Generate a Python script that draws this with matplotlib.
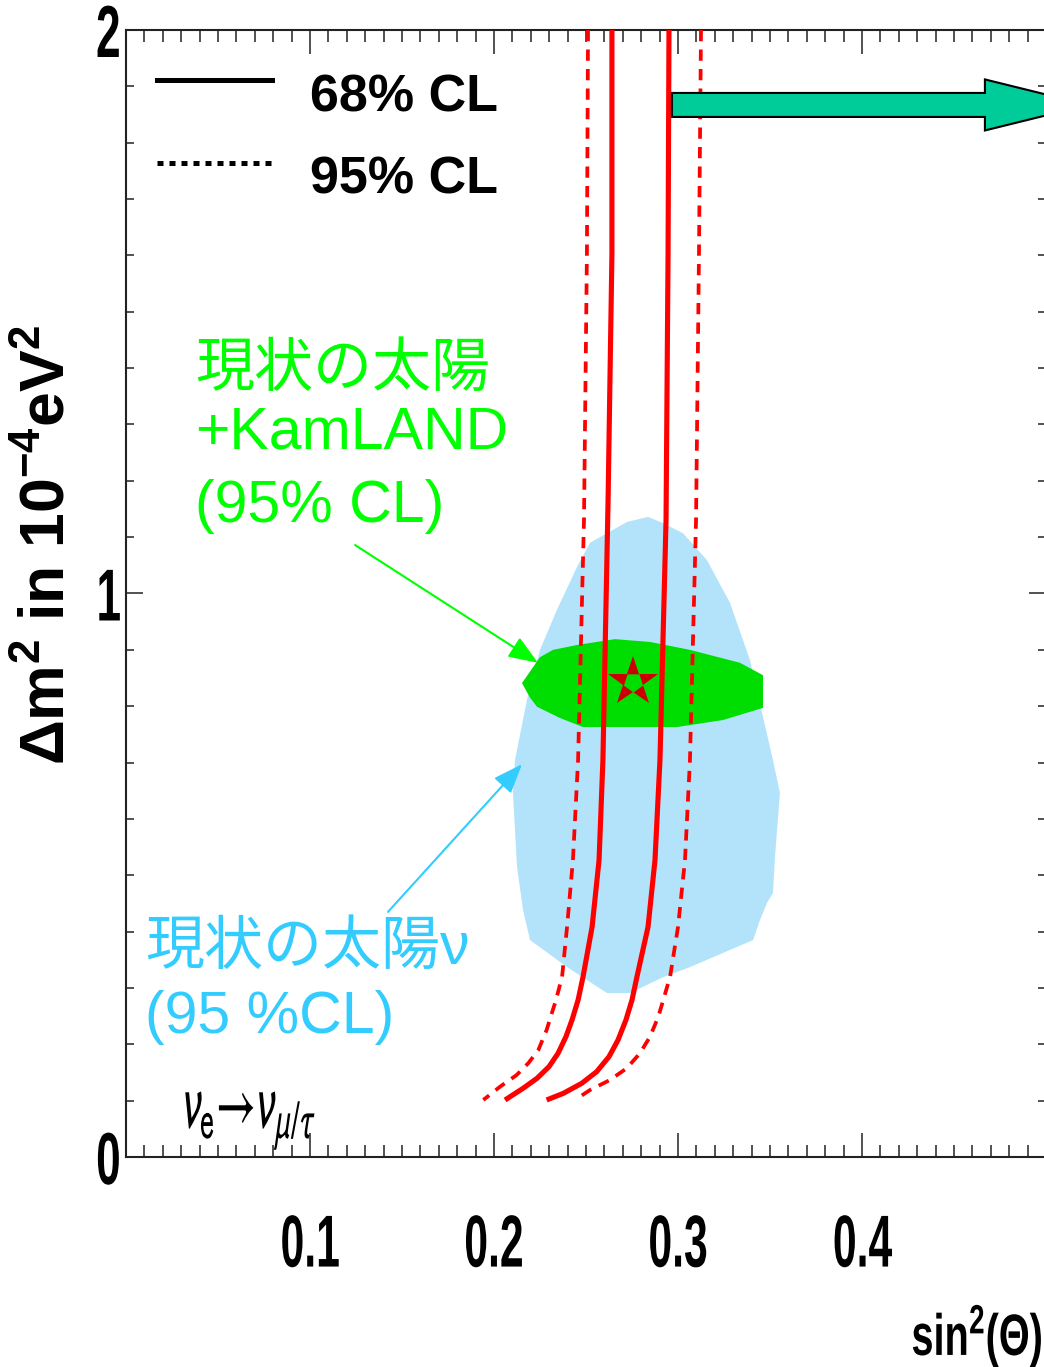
import numpy as np
import matplotlib
matplotlib.use("Agg")
import matplotlib.pyplot as plt
from matplotlib.patches import Polygon
from matplotlib.lines import Line2D
from matplotlib.legend_handler import HandlerLine2D
from matplotlib.patheffects import AbstractPathEffect
from matplotlib.transforms import Affine2D
from matplotlib.ticker import MultipleLocator

# ---------------------------------------------------------------- data
# 68% CL allowed band (two branches, sin^2 vs dm^2 [1e-4 eV^2])
cl68_left_x = [0.2641, 0.2641, 0.2620, 0.2592, 0.2571, 0.2533, 0.2484, 0.2457, 0.2424, 0.2391,
               0.2348, 0.2299, 0.2234, 0.2158, 0.2060]
cl68_left_y = [2.000, 1.604, 1.166, 0.7045, 0.527, 0.408, 0.320, 0.2786, 0.2431, 0.2135,
               0.1840, 0.1603, 0.1397, 0.1219, 0.1012]
cl68_right_x = [0.2951, 0.2946, 0.2935, 0.2902, 0.2875, 0.2837, 0.2777, 0.2750, 0.2717, 0.2674,
                0.2625, 0.2558, 0.2477, 0.2377, 0.2286]
cl68_right_y = [2.000, 1.604, 1.130, 0.7045, 0.527, 0.408, 0.320, 0.2786, 0.2431, 0.2076,
                0.1780, 0.1514, 0.1308, 0.1130, 0.1012]

# 95% CL allowed band
cl95_left_x = [0.2511, 0.2505, 0.2489, 0.2457, 0.2429, 0.2397, 0.2370, 0.2337, 0.2314, 0.2286,
               0.2241, 0.2186, 0.2123, 0.2033, 0.1942]
cl95_left_y = [2.000, 1.604, 1.130, 0.7045, 0.527, 0.408, 0.320, 0.2786, 0.2550, 0.2254,
               0.1899, 0.1663, 0.1455, 0.1248, 0.1012]
cl95_right_x = [0.3125, 0.3114, 0.3098, 0.3065, 0.3038, 0.3000, 0.2957, 0.2920, 0.2893, 0.2848,
                0.2793, 0.2721, 0.2630, 0.2522, 0.2440]
cl95_right_y = [2.000, 1.604, 1.130, 0.7045, 0.527, 0.408, 0.320, 0.2786, 0.2490, 0.2135,
                0.1840, 0.1574, 0.1366, 0.1189, 0.1012]

# solar-neutrino allowed region (95% CL)
solar_x = [0.2837, 0.2918, 0.3027, 0.3158, 0.3283, 0.3391, 0.3462, 0.3516, 0.3554, 0.3527,
           0.3516, 0.3484, 0.3446, 0.3408, 0.3065, 0.2918, 0.2739, 0.2614, 0.2397, 0.2196,
           0.2158, 0.2125, 0.2103, 0.2114, 0.2179, 0.2250, 0.2342, 0.2451, 0.2522, 0.2723]
solar_y = [1.136, 1.125, 1.107, 1.059, 0.983, 0.882, 0.781, 0.7045, 0.646, 0.532,
           0.4685, 0.451, 0.421, 0.385, 0.337, 0.319, 0.291, 0.291, 0.337, 0.385,
           0.438, 0.515, 0.646, 0.7045, 0.811, 0.900, 0.971, 1.047, 1.090, 1.127]

# solar + KamLAND allowed region (95% CL)
kam_x = [0.2152, 0.2250, 0.2321, 0.2451, 0.2658, 0.2848, 0.3065, 0.3337, 0.3462, 0.3462,
         0.3245, 0.2995, 0.2484, 0.2359, 0.2234, 0.2196]
kam_y = [0.841, 0.887, 0.900, 0.9086, 0.919, 0.914, 0.900, 0.877, 0.855, 0.797,
         0.7755, 0.763, 0.763, 0.779, 0.799, 0.815]

# best fit point
best_fit_x = [0.2755]
best_fit_y = [0.843]

# wide arrow pointing to larger mixing
arrow_x0, arrow_head_x, arrow_tip_x = 0.2967, 0.4668, 0.523
arrow_y = 1.867
arrow_shaft_half, arrow_head_half = 0.0213, 0.0453

x_ticks = [0.1, 0.2, 0.3, 0.4]
x_tick_labels = ["0.1", "0.2", "0.3", "0.4"]
y_ticks = [0, 1, 2]
y_tick_labels = ["0", "1", "2"]
legend_labels = ["68% CL", "95% CL"]


# ---------------------------------------------------------------- helpers
class Narrow(AbstractPathEffect):
    """Draw text glyphs horizontally compressed (condensed face)."""

    def __init__(self, factor, anchor="center"):
        super().__init__()
        self.factor = factor
        self.anchor = anchor

    def draw_path(self, renderer, gc, tpath, affine, rgbFace=None):
        ext = tpath.get_extents()
        cx = {"left": ext.x0, "center": 0.5 * (ext.x0 + ext.x1), "right": ext.x1}[self.anchor]
        squeeze = Affine2D().translate(-cx, 0).scale(self.factor, 1).translate(cx, 0)
        renderer.draw_path(gc, tpath, squeeze + affine, rgbFace)


class RaisedLine(HandlerLine2D):
    """Legend line drawn a bit higher than the default handle position."""

    def __init__(self, lift, **kw):
        super().__init__(**kw)
        self.lift = lift

    def create_artists(self, legend, orig_handle, xdescent, ydescent, width, height, fontsize, trans):
        arts = super().create_artists(legend, orig_handle, xdescent, ydescent, width, height, fontsize, trans)
        for a in arts:
            a.set_ydata(np.asarray(a.get_ydata()) + self.lift * fontsize)
        return arts


plt.rcParams["font.family"] = ["Liberation Sans", "Noto Sans CJK JP", "DejaVu Sans"]
plt.rcParams["mathtext.fontset"] = "custom"
plt.rcParams["mathtext.rm"] = "Liberation Sans"
plt.rcParams["mathtext.it"] = "Liberation Sans:italic"
plt.rcParams["mathtext.bf"] = "Liberation Sans:bold"

W, H = 1044, 1367
fig = plt.figure(figsize=(W / 100, H / 100), dpi=100)
ax = fig.add_axes([126 / W, 210 / H, 920 / W, 1127 / H])
ax.set_xlim(0, 0.5)
ax.set_ylim(0, 2)

# regions
ax.fill(solar_x, solar_y, color="#b2e3fb", lw=0, zorder=1)
ax.fill(kam_x, kam_y, color="#00dd00", lw=0, zorder=2)

# confidence bands
red = "#ff0000"
for xs, ys in [(cl68_left_x, cl68_left_y), (cl68_right_x, cl68_right_y)]:
    ax.plot(xs, ys, color=red, lw=3.7, solid_capstyle="butt", solid_joinstyle="round", zorder=3)
for xs, ys in [(cl95_left_x, cl95_left_y), (cl95_right_x, cl95_right_y)]:
    ax.plot(xs, ys, color=red, lw=2.7, ls=(0, (3.0, 2.2)), zorder=3)

# best fit star (hollow centre)
ax.plot(best_fit_x, best_fit_y, marker="*", ms=38, color="#cc0000", mew=0, ls="none", zorder=5)
ax.plot(best_fit_x, best_fit_y, marker=(5, 0, 180), ms=38 * 0.382, color="#00dd00", mew=0, ls="none", zorder=6)

# wide arrow
ya, s, h = arrow_y, arrow_shaft_half, arrow_head_half
arrow_verts = [(arrow_x0, ya - s), (arrow_head_x, ya - s), (arrow_head_x, ya - h), (arrow_tip_x, ya),
               (arrow_head_x, ya + h), (arrow_head_x, ya + s), (arrow_x0, ya + s)]
ax.add_patch(Polygon(arrow_verts, closed=True, fc="#00cc99", ec="black", lw=1.5, zorder=7, clip_on=False))

# labels for regions
green_txt = "#00ff00"
blue_txt = "#33ccff"
fs_note = 42.5
ax.text(0.0375, 1.368, "現状の太陽", color=green_txt, fontsize=fs_note, va="baseline", ha="left")
ax.text(0.0375, 1.258, "+KamLAND", color=green_txt, fontsize=fs_note, va="baseline", ha="left")
ax.text(0.0375, 1.127, "(95% CL)", color=green_txt, fontsize=fs_note, va="baseline", ha="left")
ax.text(0.0103, 0.3425, "現状の太陽ν", color=blue_txt, fontsize=fs_note, va="baseline", ha="left")
ax.text(0.0103, 0.220, "(95 %CL)", color=blue_txt, fontsize=fs_note, va="baseline", ha="left")

ax.annotate("", xy=(0.2239, 0.877), xytext=(0.1245, 1.086),
            arrowprops=dict(arrowstyle="-|>,head_length=18,head_width=7", color=green_txt,
                            lw=1.5, mutation_scale=1, shrinkA=0, shrinkB=0), zorder=8)
ax.annotate("", xy=(0.2152, 0.697), xytext=(0.1424, 0.435),
            arrowprops=dict(arrowstyle="-|>,head_length=18,head_width=7", color=blue_txt,
                            lw=1.5, mutation_scale=1, shrinkA=0, shrinkB=0), zorder=8)

ax.text(0.0305, 0.0515, r"$\nu_{\mathrm{e}}\!\rightarrow\!\nu_{\mu/\tau}$", fontsize=56,
        math_fontfamily="stixsans", va="baseline", ha="left", color="black",
        path_effects=[Narrow(0.56, "left")], zorder=9)

# legend
h68 = Line2D([], [], color="black", lw=3.6)
h95 = Line2D([], [], color="black", lw=3.6, ls=(0, (1.2, 1.2)))
ax.legend([h68, h95], legend_labels, loc="upper left", bbox_to_anchor=(0.0337, 0.9618),
          frameon=False, borderpad=0, borderaxespad=0, handlelength=2.2, handletextpad=0.73,
          labelspacing=0.65, prop=dict(family="Liberation Sans", weight="bold", size=37.5),
          handler_map={Line2D: RaisedLine(0.25)})

# axes styling
for sp in ax.spines.values():
    sp.set_linewidth(1.5)
    sp.set_color("#222222")
ax.set_xticks(x_ticks)
ax.set_xticklabels(x_tick_labels, fontweight="bold")
ax.set_yticks(y_ticks)
ax.set_yticklabels(y_tick_labels, fontweight="bold")
ax.xaxis.set_minor_locator(MultipleLocator(0.01))
ax.yaxis.set_minor_locator(MultipleLocator(0.1))
ax.tick_params(which="both", direction="in", top=True, right=True, color="#222222", width=1.1)
ax.tick_params(axis="x", which="major", length=17, pad=40, labelsize=53)
ax.tick_params(axis="x", which="minor", length=8.6)
ax.tick_params(axis="y", which="major", length=12, pad=3, labelsize=53)
ax.tick_params(axis="y", which="minor", length=5.8)
for lab in ax.get_xticklabels():
    lab.set_path_effects([Narrow(0.58, "center")])
for lab in ax.get_yticklabels():
    lab.set_path_effects([Narrow(0.6, "right")])

ax.set_xlabel(r"$\mathbf{sin}^{\mathbf{2}}\mathbf{(\Theta)}$", fontsize=42, loc="right", va="baseline",
              path_effects=[Narrow(0.68, "right")])
ax.xaxis.set_label_coords(0.9967, -0.1757)
ax.set_ylabel(r"$\mathbf{\Delta m^{2}\ in\ 10^{-4}eV^{2}}$", fontsize=45, va="baseline")
ax.yaxis.set_label_coords(-0.0674, 0.543)

fig.savefig("out.png", dpi=100)
